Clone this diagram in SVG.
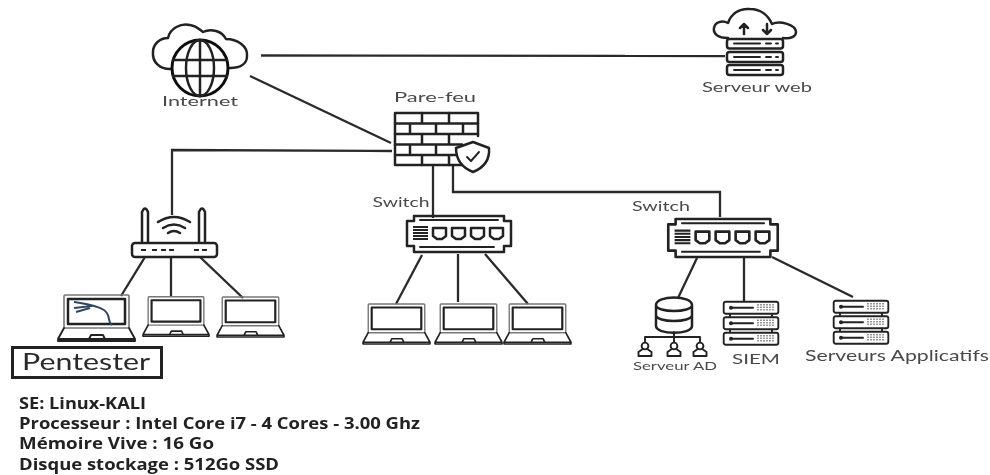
<svg xmlns="http://www.w3.org/2000/svg" width="990" height="475" viewBox="0 0 990 475">
<style>
.l{fill:none;stroke:#222;stroke-width:2.5;stroke-linejoin:round;stroke-linecap:round}
.t{fill:none;stroke:#222;stroke-width:1.9;stroke-linejoin:round;stroke-linecap:round}
.g{fill:none;stroke:#777;stroke-width:1.6}
.c{fill:none;stroke:#2b2b2b;stroke-width:2.3}
.hw{font-family:"Lato","Liberation Sans",sans-serif;fill:#4a4a4a;text-anchor:middle}
.big{fill:#2b2b2b}
.info{font-family:"Open Sans","Liberation Sans",sans-serif;font-weight:700;font-size:15.5px;fill:#222}
</style>
<defs>
<filter id="soft" x="-2%" y="-2%" width="104%" height="104%"><feGaussianBlur stdDeviation="0.5"/></filter>
<symbol id="laptop" viewBox="0 0 77 46" overflow="visible">
<rect class="g" x="6" y="0" width="65" height="33" rx="1"/>
<rect class="l" x="10" y="4" width="57" height="25"/>
<path class="t" d="M6 33L0 44H77L71 33M0 44.5V46H77V44.5M31 44L33 40H45L47 44"/>
</symbol>
<symbol id="stack" viewBox="0 0 56 44" overflow="visible">
<g id="unit">
<rect class="t" x="0.7" y="0.7" width="54.6" height="12" rx="2"/>
<circle cx="8" cy="6.7" r="2" fill="#222"/>
<path class="t" d="M8 6.7H30"/>
<path d="M35 3V10M38 3V10M41 3V10M44 3V10M47 3V10M50 3V10" stroke="#555" stroke-width="1.2" stroke-dasharray="1.5 1"/>
</g>
<use href="#unit" y="15.5"/>
<use href="#unit" y="31"/>
<path class="t" d="M7 13V15.500M49 13V15.500M7 28.500V31M49 28.500V31"/>
</symbol>
<symbol id="switch" viewBox="0 0 106 38" overflow="visible">
<path class="l" d="M8 6V1H98V6H105V31H98V37H8V31H1V6Z"/>
<path class="t" d="M14 5H92M14 32H88"/>
<path d="M7 12H22M7 15H22M7 18H22M7 21H22M7 24H22" stroke="#222" stroke-width="2"/>
<g id="port"><path class="l" d="M27 13H40V21L36 24H31L27 21Z"/></g>
<use href="#port" x="19"/><use href="#port" x="38"/><use href="#port" x="57"/>
</symbol>
<symbol id="user" viewBox="0 0 16 15" overflow="visible">
<circle class="t" cx="8" cy="4" r="3.4"/>
<path class="t" d="M5 7.500L1.500 10V14H14.500V10L11 7.500"/>
</symbol>
</defs>
<rect width="990" height="475" fill="#fff"/>
<g filter="url(#soft)">
<g id="connectors">
<path class="c" d="M261 55.500L725 56"/>
<path class="c" d="M250 76L391 143"/>
<path class="c" d="M392 151L172 150V215"/>
<path class="c" d="M433 165V218"/>
<path class="c" d="M453 165V192H720V217"/>
<path class="c" d="M145 257L121 296M171 257V296M200 257L243 298"/>
<path class="c" d="M422 255L396 304M458 254V302M485 254L528 304"/>
<path class="c" d="M697 258L678 298M744 258V301M772 257L853 297"/>
</g>
<g id="internet">
<path class="l" d="M172 69C160 70 152 62 153 52C153 44 160 38 168 38C170 28 181 23 190 25C197 26 200 30 203 32C211 28 222 31 226 39C237 39 248 46 247 56C247 64 240 68 230 68"/>
<circle cx="200" cy="68" r="28" fill="#fff" stroke="#111" stroke-width="3"/>
<ellipse class="l" cx="200" cy="68" rx="14" ry="28"/>
<path class="l" d="M200 40V96M173 60H227M173 76H227"/>
<text class="hw" x="200" y="106" font-size="14" textLength="76" lengthAdjust="spacingAndGlyphs">Internet</text>
</g>
<g id="web">
<path class="l" d="M728 38C718 38 713 34 714 28C715 22 722 20 728 23C731 14 739 8 750 9C760 9 768 15 772 24C780 20 796 25 796 32C796 37 790 39 783 38"/>
<path class="l" d="M744 34V24M740 28L744 24L748 28M767 24V34M763 30L767 34L771 30"/>
<rect class="l" x="727" y="39" width="56" height="9.500" rx="2.500"/>
<rect class="l" x="727" y="52" width="56" height="10" rx="2.500"/>
<rect class="l" x="727" y="65" width="56" height="10" rx="2.500"/>
<path class="t" d="M734 43.500H760M766 43.500H771M776 43.500H778M734 57H760M766 57H771M776 57H778M734 70H760M766 70H771M776 70H778"/>
<text class="hw" x="757" y="92" font-size="14" textLength="110" lengthAdjust="spacingAndGlyphs">Serveur web</text>
</g>
<g id="firewall">
<path class="l" d="M478 136V113H395V165H470"/>
<path class="l" d="M395 123.500H478M395 134H478M395 144.500H462M395 155H458M422 113V123.500M449 113V123.500M410 123.500V134M436 123.500V134M463 123.500V134M422 134V144.500M449 134V144.500M410 144.500V155M436 144.500V155M422 155V165M449 155V165"/>
<path d="M473 142L489 148C490 160 483 168 473 172C463 168 456 160 456 148Z" fill="#fff" stroke="#222" stroke-width="2.500" stroke-linejoin="round"/>
<path class="t" d="M467 157L471 161L479 152"/>
<text class="hw" x="435" y="102" font-size="14" textLength="82" lengthAdjust="spacingAndGlyphs">Pare-feu</text>
</g>
<g id="router">
<rect class="l" x="132" y="243" width="85" height="14" rx="3"/>
<path class="l" d="M142 242V212Q145 205 148 212V242M199 242V212Q202 205 205 212V242"/>
<path class="l" d="M158 222Q174 212 190 222M163 228Q174 221 185 228M168 233Q174 229 180 233"/>
<path d="M141 250H149M152 250H158M161 250H174M194 250H208" stroke="#222" stroke-width="2.200" stroke-dasharray="5 3"/>
</g>
<g id="laptop-pentester">
<use href="#laptop" x="58" y="295" width="77" height="46"/>
<path d="M74 302C86 304 96 305 104 310C112 316 106 320 112 325M74 308L92 306M76 312L90 308" fill="none" stroke="#33475f" stroke-width="2"/>
</g>
<g id="laptop-2"><use href="#laptop" x="143" y="296" width="66" height="41"/></g>
<g id="laptop-3"><use href="#laptop" x="217" y="297" width="67" height="40"/></g>
<g id="pentester">
<rect x="12.500" y="347.500" width="149" height="30" fill="#fff" stroke="#222" stroke-width="3"/>
<text class="hw big" x="86" y="370" font-size="24" textLength="128" lengthAdjust="spacingAndGlyphs">Pentester</text>
</g>
<g id="switch-1">
<use href="#switch" x="406" y="215" width="106" height="38"/>
<text class="hw" x="401" y="207" font-size="14" textLength="57" lengthAdjust="spacingAndGlyphs">Switch</text>
</g>
<g id="laptop-4"><use href="#laptop" x="363" y="304" width="67" height="40"/></g>
<g id="laptop-5"><use href="#laptop" x="435" y="304" width="67" height="40"/></g>
<g id="laptop-6"><use href="#laptop" x="504" y="304" width="67" height="40"/></g>
<g id="switch-2">
<use href="#switch" x="667" y="218" width="112" height="40"/>
<text class="hw" x="661" y="211" font-size="14" textLength="58" lengthAdjust="spacingAndGlyphs">Switch</text>
</g>
<g id="serveur-ad">
<path class="l" d="M656 305C656 295 692 295 692 305V326C692 335 656 335 656 326ZM656 305C656 313 692 313 692 305M656 315C656 323 692 323 692 315"/>
<path class="t" d="M674 332V337M645 342V337H700V342M674 337V342"/>
<use href="#user" x="637" y="342" width="16" height="15"/>
<use href="#user" x="666" y="342" width="16" height="15"/>
<use href="#user" x="692" y="342" width="16" height="15"/>
<text class="hw" x="675" y="370" font-size="11.500" textLength="84" lengthAdjust="spacingAndGlyphs">Serveur AD</text>
</g>
<g id="siem">
<use href="#stack" x="723" y="301" width="56" height="44"/>
<text class="hw" x="756" y="364" font-size="14" textLength="48" lengthAdjust="spacingAndGlyphs">SIEM</text>
</g>
<g id="serveurs-applicatifs">
<use href="#stack" x="833" y="300" width="56" height="44"/>
<text class="hw" x="897" y="361" font-size="15" textLength="184" lengthAdjust="spacingAndGlyphs">Serveurs Applicatifs</text>
</g>
<g id="specs">
<text class="info" x="19" y="409" textLength="127" lengthAdjust="spacingAndGlyphs">SE: Linux-KALI</text>
<text class="info" x="19" y="429" textLength="401" lengthAdjust="spacingAndGlyphs">Processeur : Intel Core i7 - 4 Cores - 3.00 Ghz</text>
<text class="info" x="19" y="449" textLength="195" lengthAdjust="spacingAndGlyphs">Mémoire Vive : 16 Go</text>
<text class="info" x="19" y="470" textLength="260" lengthAdjust="spacingAndGlyphs">Disque stockage : 512Go SSD</text>
</g>
</g>
</svg>
